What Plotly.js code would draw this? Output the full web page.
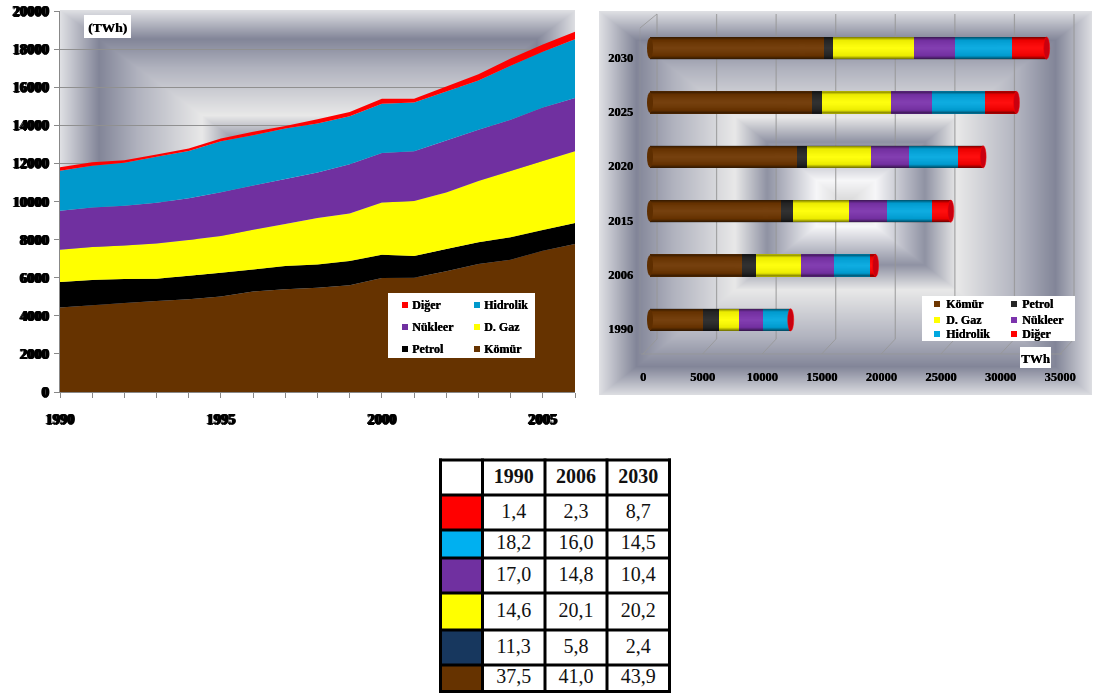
<!DOCTYPE html>
<html>
<head>
<meta charset="utf-8">
<script src="https://cdn.plot.ly/plotly-3.0.1.min.js"></script>
<style>
  html, body { margin: 0; padding: 0; background: #fff; }
  #charts { position: absolute; left: 0; top: 0; width: 1096px; height: 450px; filter: blur(0.6px); }
  #shares { position: absolute; left: 430px; top: 450px; width: 250px; height: 243px; }
</style>
</head>
<body>
<div id="charts"></div>
<div id="shares"></div>
<script>
// Yearly generation by source, 1990-2006 (TWh)
const years = [1990,1991,1992,1993,1994,1995,1996,1997,1998,1999,2000,2001,2002,2003,2004,2005,2006];
const komur    = [4434,4556,4678,4782,4870,5008,5270,5390,5478,5600,5980,6000,6340,6720,6940,7420,7770];
const petrol   = [1340,1322,1252,1166,1234,1253,1165,1219,1218,1280,1220,1140,1170,1140,1180,1080,1100];
const dogalgaz = [1688,1740,1758,1844,1880,1931,2088,2210,2434,2490,2745,2890,2960,3220,3480,3620,3770];
const nukleer  = [2053,2071,2088,2140,2192,2297,2314,2366,2390,2580,2595,2610,2730,2690,2690,2820,2790];
const hidrolik = [2105,2192,2261,2419,2471,2680,2645,2645,2580,2520,2590,2560,2570,2580,2840,2920,3090];
const diger    = [174,174,123,122,139,139,174,139,220,225,260,190,265,330,380,385,386];

// Projection by source (TWh)
const projYears = ['1990','2006','2015','2020','2025','2030'];
const pKomur    = [4430,7760,10960,12300,13570,14600];
const pPetrol   = [1335,1100,1010,900,830,800];
const pGaz      = [1725,3800,4750,5340,5820,6720];
const pNukleer  = [2005,2800,3140,3190,3410,3460];
const pHidrolik = [2150,3035,3770,4130,4470,4820];
const pDiger    = [165,435,1620,2100,2660,2890];

// Share table (%)
const shareYears = ['1990','2006','2030'];
const shareDiger    = [1.4,2.3,8.7];
const shareHidrolik = [18.2,16.0,14.5];
const shareNukleer  = [17.0,14.8,10.4];
const shareGaz      = [14.6,20.1,20.2];
const sharePetrol   = [11.3,5.8,2.4];
const shareKomur    = [37.5,41.0,43.9];

const W = 1096, H = 450;
const px = v => v / W;
const py = v => 1 - v / H;
const SERIF = '"Liberation Serif", "Times New Roman", serif';
const smear = '1px 0 0 #000, -1px 0 0 #000, 0 0.5px 0 #000';

// Chrome-style rectangular gradient painted into a canvas
function ringBackground(w, h) {
  const stops = [[0,[222,223,227]],[0.15,[130,133,152]],[0.3,[176,178,190]],[0.55,[232,232,232]],
                 [0.68,[143,146,163]],[0.88,[246,246,248]],[1,[214,214,214]]];
  const c = document.createElement('canvas');
  c.width = w; c.height = h;
  const g = c.getContext('2d');
  const img = g.createImageData(w, h);
  for (let y = 0; y < h; y++) for (let x = 0; x < w; x++) {
    const t = 2 * Math.min(x / w, (w - x) / w, y / h, (h - y) / h);
    let i = 0;
    while (i < stops.length - 2 && t > stops[i + 1][0]) i++;
    const f = Math.min(1, (t - stops[i][0]) / (stops[i + 1][0] - stops[i][0]));
    const o = 4 * (y * w + x);
    for (let k = 0; k < 3; k++) img.data[o + k] = stops[i][1][k] + f * (stops[i + 1][1][k] - stops[i][1][k]);
    img.data[o + 3] = 255;
  }
  g.putImageData(img, 0, 0);
  return c.toDataURL();
}

// Translucent strip that gives a flat bar its cylinder shading
function cylinderShade() {
  const c = document.createElement('canvas');
  c.width = 4; c.height = 44;
  const g = c.getContext('2d');
  const lin = g.createLinearGradient(0, 0, 0, 44);
  lin.addColorStop(0, 'rgba(0,0,0,0.55)');
  lin.addColorStop(0.14, 'rgba(0,0,0,0.08)');
  lin.addColorStop(0.5, 'rgba(255,255,255,0.06)');
  lin.addColorStop(0.84, 'rgba(0,0,0,0.08)');
  lin.addColorStop(1, 'rgba(0,0,0,0.6)');
  g.fillStyle = lin;
  g.fillRect(0, 0, 4, 44);
  return c.toDataURL();
}

// Left chart: stacked areas
const areaSeries = [
  ['Kömür', komur, '#663300'], ['Petrol', petrol, '#000000'], ['D. Gaz', dogalgaz, '#ffff00'],
  ['Nükleer', nukleer, '#7030a0'], ['Hidrolik', hidrolik, '#0099cc'], ['Diğer', diger, '#ff0000']
];
const traces = areaSeries.map(([name, vals, col]) => ({
  type: 'scatter', mode: 'none', name, x: years, y: vals, stackgroup: 'one',
  fillcolor: col, xaxis: 'x', yaxis: 'y', showlegend: false
}));

// Right chart: stacked cylinders
const barSeries = [
  ['Kömür', pKomur, '#6e3600'], ['Petrol', pPetrol, '#262626'], ['D. Gaz', pGaz, '#ffff00'],
  ['Nükleer', pNukleer, '#7c33ad'], ['Hidrolik', pHidrolik, '#00a8e0'], ['Diğer', pDiger, '#ff0000']
];
barSeries.forEach(([name, vals, col]) => traces.push({
  type: 'bar', orientation: 'h', name, x: vals, y: projYears, marker: { color: col, line: { width: 0 } },
  xaxis: 'x2', yaxis: 'y2', showlegend: false
}));

const totals = projYears.map((_, i) => barSeries.reduce((s, b) => s + b[1][i], 0));

// Pixel layout of the right chart's axes: the value scale runs 0-35000 over zeroX..fullX,
// and the axis box is wider so the 3D walls and the bar caps are not clipped
const zeroX = 650, fullX = 1067, boxLeft = 636, boxRight = 1090, barTop = 21, barBottom = 347;
const unitPerPx = 35000 / (fullX - zeroX);
const valueTicks = [0,5000,10000,15000,20000,25000,30000,35000];
const barHalf = 0.205;

const images = [
  { source: ringBackground(515, 382), xref: 'paper', yref: 'paper', x: px(60), y: py(10), sizex: px(515), sizey: 382 / H,
    sizing: 'stretch', layer: 'below' },
  { source: ringBackground(493, 384), xref: 'paper', yref: 'paper', x: px(599), y: py(11), sizex: px(493), sizey: 384 / H,
    sizing: 'stretch', layer: 'below' }
];
const shade = cylinderShade();
const shapes = [];

// Wall and floor lines of the 3D box, offset from the bar axis by its depth
const wall = 'rgba(150,150,150,0.8)';
valueTicks.forEach(v => {
  const back = v + 7 * unitPerPx, front = v - 7 * unitPerPx;
  shapes.push({ type: 'line', layer: 'below', xref: 'x2', yref: 'paper', x0: back, x1: back, y0: py(14), y1: py(339), line: { color: wall, width: 1.2 } });
  shapes.push({ type: 'line', layer: 'below', xref: 'x2', yref: 'paper', x0: back, x1: front, y0: py(339), y1: py(354), line: { color: wall, width: 1 } });
});
shapes.push({ type: 'line', layer: 'below', xref: 'x2', yref: 'paper', x0: -9 * unitPerPx, x1: 35000 - 5 * unitPerPx, y0: py(354), y1: py(354), line: { color: wall, width: 1 } });
shapes.push({ type: 'line', layer: 'below', xref: 'x2', yref: 'paper', x0: 7 * unitPerPx, x1: -10 * unitPerPx, y0: py(14), y1: py(28), line: { color: wall, width: 1 } });
shapes.push({ type: 'line', layer: 'below', xref: 'x2', yref: 'paper', x0: -10 * unitPerPx, x1: -10 * unitPerPx, y0: py(28), y1: py(354), line: { color: 'rgba(150,150,150,0.35)', width: 1 } });

// Rounded start and end of each cylinder
projYears.forEach((yr, i) => {
  images.push({ source: shade, xref: 'x2', yref: 'y2', x: 0, y: i, sizex: totals[i], sizey: 2 * barHalf,
    xanchor: 'left', yanchor: 'middle', sizing: 'stretch', layer: 'above' });
  shapes.push({ type: 'circle', layer: 'above', xref: 'x2', yref: 'y2', x0: -3 * unitPerPx, x1: 3 * unitPerPx,
    y0: i - barHalf * 0.93, y1: i + barHalf * 0.93, fillcolor: '#5e2e00', line: { width: 0 } });
  shapes.push({ type: 'circle', layer: 'above', xref: 'x2', yref: 'y2', x0: totals[i] - 3 * unitPerPx, x1: totals[i] + 3 * unitPerPx,
    y0: i - barHalf, y1: i + barHalf, fillcolor: '#c9000f', line: { color: '#ff0000', width: 0.5 } });
});

// Hand-placed legend boxes
const annotations = [];
function box(x0, y0, x1, y1) {
  shapes.push({ type: 'rect', layer: 'above', xref: 'paper', yref: 'paper', x0: px(x0), x1: px(x1), y0: py(y0), y1: py(y1), fillcolor: '#fff', line: { width: 0 } });
}
function label(text, x, y, size, anchor) {
  annotations.push({ text, xref: 'paper', yref: 'paper', x: px(x), y: py(y), xanchor: anchor || 'left', yanchor: 'middle', showarrow: false,
    font: { family: SERIF, size, color: '#000', weight: 'bold', shadow: '0.4px 0 0 #000' } });
}
function entry(name, col, sx, tx, y, size, sw) {
  shapes.push({ type: 'rect', layer: 'above', xref: 'paper', yref: 'paper', x0: px(sx), x1: px(sx + sw), y0: py(y - sw / 2), y1: py(y + sw / 2), fillcolor: col, line: { width: 0 } });
  label(name, tx, y, size);
}

box(84, 15, 131, 38);
label('(TWh)', 107.5, 27, 13.5, 'center');
box(388, 293, 535, 358);
[['Diğer','#ff0000',402,410,305],['Hidrolik','#0099cc',474,482,305],
 ['Nükleer','#7030a0',402,410,327],['D. Gaz','#ffff00',474,482,327],
 ['Petrol','#000000',402,410,349],['Kömür','#663300',474,482,349]]
  .forEach(e => entry(e[0], e[1], e[2], e[3], e[4], 12, 6));

box(922, 296, 1075, 341);
[['Kömür','#6e3600',934,944,304],['Petrol','#262626',1011,1020,304],
 ['D. Gaz','#ffff00',934,944,320],['Nükleer','#7c33ad',1011,1020,320],
 ['Hidrolik','#00a8e0',934,944,334],['Diğer','#ff0000',1011,1020,334]]
  .forEach(e => entry(e[0], e[1], e[2], e[3], e[4], 12, 6));
box(1020, 347, 1051, 368);
label('TWh', 1035.5, 358, 13, 'center');

const tickFont = { family: SERIF, size: 14.5, color: '#000', weight: 'bold', shadow: smear };
const layout = {
  width: W, height: H, margin: { l: 0, r: 0, t: 0, b: 0 },
  paper_bgcolor: '#fff', plot_bgcolor: 'rgba(0,0,0,0)',
  barmode: 'stack', bargap: 0.59, images, shapes, annotations,
  xaxis: { domain: [px(60), px(575)], range: [1990, 2006], anchor: 'y', tickmode: 'linear', tick0: 1990, dtick: 5, tickformat: 'd',
    ticks: 'outside', ticklen: 5, tickcolor: '#888', linecolor: '#888', showline: true, showgrid: false, zeroline: false,
    minor: { dtick: 1, ticks: 'outside', ticklen: 5, tickcolor: '#888', showgrid: false },
    tickfont: tickFont, ticklabelstandoff: 9 },
  yaxis: { domain: [py(392), py(11)], range: [0, 20000], anchor: 'x', tickmode: 'linear', dtick: 2000, tickformat: 'd',
    ticks: 'outside', ticklen: 5, tickcolor: '#888', linecolor: '#888', showline: true, gridcolor: '#909090', gridwidth: 1, zeroline: false,
    tickfont: tickFont, ticklabelstandoff: 2 },
  xaxis2: { domain: [px(boxLeft), px(boxRight)], range: [(boxLeft - zeroX) * unitPerPx, (boxRight - zeroX) * unitPerPx], anchor: 'y2',
    tickvals: valueTicks, tickformat: 'd', ticks: '', showgrid: false, zeroline: false,
    showline: false, tickfont: { family: SERIF, size: 12.5, color: '#000', weight: 'bold', shadow: '0.4px 0 0 #000' }, ticklabelshift: -7, ticklabelstandoff: 20 },
  yaxis2: { domain: [py(barBottom), py(barTop)], anchor: 'x2', type: 'category', categoryorder: 'array', categoryarray: projYears,
    ticks: '', showgrid: false, zeroline: false, showline: false, ticklabelstandoff: 2, ticklabelshift: 9,
    tickfont: { family: SERIF, size: 12.5, color: '#000', weight: 'bold', shadow: '0.4px 0 0 #000' } }
};

Plotly.newPlot('charts', traces, layout, { displayModeBar: false, staticPlot: true });

// Share table: columns and rows laid out on a pixel-scaled pair of axes
const colEdges = [10.5, 52.5, 115, 177, 239.5];
const rowEdges = [10, 45, 80, 108, 143, 180, 215, 241.5];
const shareRows = [shareDiger, shareHidrolik, shareNukleer, shareGaz, sharePetrol, shareKomur];
const rowColors = ['#ff0000', '#00b0f0', '#7030a0', '#ffff00', '#17375e', '#663300'];
const mid = (a, i) => (a[i] + a[i + 1]) / 2;

const tx = [], ty = [], tt = [];
shareRows.forEach((row, r) => row.forEach((v, c) => {
  tx.push(mid(colEdges, c + 1)); ty.push(mid(rowEdges, r + 1)); tt.push(v.toFixed(1).replace('.', ','));
}));

const tableShapes = [];
rowColors.forEach((col, r) => tableShapes.push({ type: 'rect', layer: 'below', xref: 'x', yref: 'y',
  x0: colEdges[0], x1: colEdges[1], y0: rowEdges[r + 1], y1: rowEdges[r + 2], fillcolor: col, line: { width: 0 } }));
colEdges.forEach(x => tableShapes.push({ type: 'line', xref: 'x', yref: 'y', x0: x, x1: x, y0: rowEdges[0] - 1.5, y1: rowEdges[7] + 1.5, line: { color: '#000', width: 3 } }));
rowEdges.forEach(y => tableShapes.push({ type: 'line', xref: 'x', yref: 'y', x0: colEdges[0] - 1.5, x1: colEdges[4] + 1.5, y0: y, y1: y, line: { color: '#000', width: 3 } }));

Plotly.newPlot('shares', [
  { type: 'scatter', mode: 'text', x: tx, y: ty, text: tt, textposition: 'middle center', cliponaxis: false,
    textfont: { family: SERIF, size: 20, color: '#111' }, showlegend: false },
  { type: 'scatter', mode: 'text', x: shareYears.map((_, c) => mid(colEdges, c + 1)), y: shareYears.map(() => mid(rowEdges, 0)), text: shareYears,
    textposition: 'middle center', cliponaxis: false, textfont: { family: SERIF, size: 20, color: '#111', weight: 'bold' }, showlegend: false }
], {
  width: 250, height: 243, margin: { l: 0, r: 0, t: 0, b: 0 }, paper_bgcolor: '#fff', plot_bgcolor: '#fff', shapes: tableShapes,
  xaxis: { range: [0, 250], visible: false, fixedrange: true },
  yaxis: { range: [243, 0], visible: false, fixedrange: true }
}, { displayModeBar: false, staticPlot: true });
</script>
</body>
</html>
